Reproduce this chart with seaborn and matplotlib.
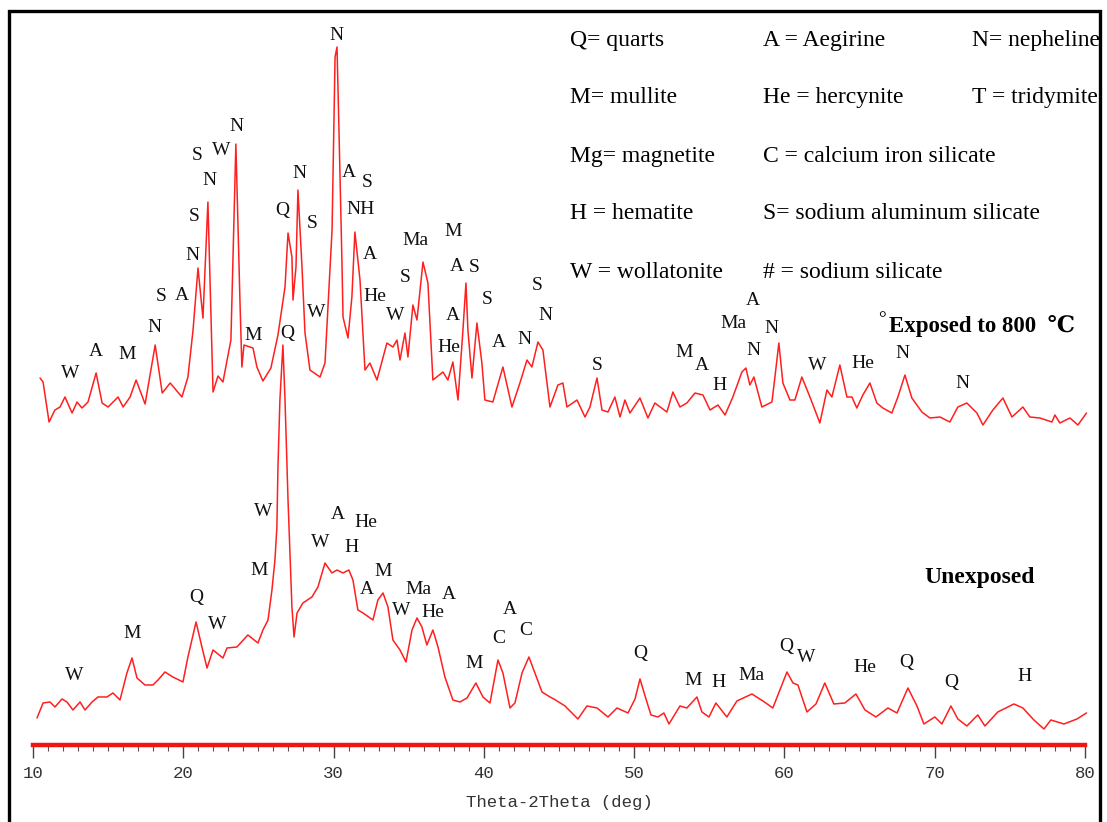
import matplotlib
matplotlib.use("Agg")
import matplotlib.pyplot as plt
from matplotlib.patches import Rectangle
import pandas as pd
import seaborn as sns

# XRD traces (2theta in deg, intensity in arbitrary units)
exposed_2theta = [10.47, 10.67, 11.07, 11.46, 11.8, 12.13, 12.6, 12.93, 13.26, 13.66,
                  14.2, 14.6, 15.0, 15.66, 16.0, 16.46, 16.86, 17.46, 18.13, 18.6,
                  19.13, 19.91, 20.31, 20.65, 20.98, 21.31, 21.64, 21.98, 22.31, 22.64,
                  23.17, 23.5, 23.77, 23.9, 24.04, 24.64, 24.9, 25.3, 25.83, 26.3,
                  26.77, 26.97, 27.23, 27.3, 27.5, 27.63, 27.9, 28.1, 28.43, 29.1,
                  29.43, 29.9, 30.1, 30.23, 30.36, 30.56, 30.63, 30.96, 31.22, 31.42,
                  31.76, 32.09, 32.42, 32.89, 33.55, 33.95, 34.22, 34.42, 34.75, 34.95,
                  35.28, 35.55, 35.95, 36.28, 36.61, 37.28, 37.61, 37.94, 38.28, 38.61,
                  38.81, 38.94, 39.21, 39.54, 39.87, 40.07, 40.6, 41.27, 41.87, 42.4,
                  42.87, 43.2, 43.6, 43.93, 44.4, 44.93, 45.26, 45.53, 46.2, 46.73,
                  47.06, 47.53, 47.86, 48.26, 48.72, 49.06, 49.39, 49.72, 50.39, 50.92,
                  51.38, 52.18, 52.58, 53.05, 53.51, 54.05, 54.58, 55.05, 55.58, 56.05,
                  56.57, 57.17, 57.44, 57.7, 57.97, 58.5, 59.17, 59.37, 59.63, 59.9,
                  60.37, 60.7, 61.16, 61.7, 62.36, 62.83, 63.16, 63.69, 64.16, 64.49,
                  64.82, 65.22, 65.69, 66.15, 66.55, 67.15, 67.55, 68.02, 68.48, 69.15,
                  69.68, 70.35, 71.01, 71.54, 72.14, 72.81, 73.21, 73.87, 74.54, 75.14,
                  75.87, 76.33, 77.0, 77.8, 78.0, 78.33, 79.0, 79.53, 80.1]
exposed_int = [367, 363, 323, 335, 338, 348, 332, 343, 337, 343,
               372, 342, 338, 348, 338, 348, 365, 341, 400, 352,
               362, 348, 368, 415, 477, 427, 543, 353, 369, 363,
               405, 601, 445, 378, 400, 397, 378, 364, 377, 410,
               458, 512, 488, 445, 478, 555, 478, 412, 375, 368,
               382, 515, 688, 698, 615, 482, 428, 407, 448, 513,
               465, 375, 382, 365, 402, 398, 405, 385, 412, 388,
               440, 425, 483, 462, 365, 373, 365, 383, 345, 415,
               462, 415, 367, 422, 382, 345, 343, 378, 338, 362,
               385, 378, 403, 395, 338, 360, 362, 338, 345, 328,
               338, 367, 335, 333, 348, 328, 345, 332, 347, 327,
               342, 333, 353, 338, 342, 352, 350, 335, 340, 330,
               348, 373, 377, 360, 368, 338, 343, 368, 402, 362,
               345, 345, 368, 348, 322, 355, 348, 380, 348, 348,
               337, 350, 362, 342, 337, 332, 348, 370, 347, 333,
               327, 328, 323, 338, 342, 332, 320, 335, 347, 328,
               338, 328, 327, 323, 330, 322, 327, 320, 332]

unexposed_2theta = [10.27, 10.67, 11.13, 11.46, 11.93, 12.26, 12.66, 13.13, 13.46, 13.93,
                    14.32, 14.92, 15.32, 15.79, 16.25, 16.59, 16.92, 17.45, 17.98, 18.32,
                    18.78, 19.31, 19.98, 20.31, 20.85, 21.24, 21.58, 21.98, 22.64, 22.91,
                    23.57, 24.3, 24.97, 25.3, 25.64, 25.9, 26.1, 26.23, 26.3, 26.43,
                    26.63, 26.77, 26.97, 27.23, 27.37, 27.57, 27.96, 28.56, 28.96, 29.43,
                    29.89, 30.23, 30.63, 31.02, 31.29, 31.62, 31.96, 32.62, 32.95, 33.29,
                    33.62, 33.95, 34.42, 34.82, 35.22, 35.55, 35.88, 36.21, 36.61, 36.95,
                    37.41, 37.94, 38.41, 38.88, 39.47, 39.94, 40.41, 40.94, 41.27, 41.74,
                    42.07, 42.54, 43.0, 43.4, 43.87, 44.4, 44.66, 45.4, 46.26, 46.86,
                    47.53, 48.26, 48.86, 49.59, 50.06, 50.39, 50.79, 51.12, 51.58, 51.98,
                    52.32, 53.05, 53.51, 54.18, 54.51, 54.98, 55.44, 56.17, 56.84, 57.84,
                    58.57, 59.23, 59.7, 60.17, 60.57, 60.9, 61.5, 62.1, 62.69, 63.29,
                    64.02, 64.76, 65.36, 66.09, 66.89, 67.49, 68.22, 68.82, 69.28, 70.01,
                    70.48, 71.08, 71.54, 72.14, 72.87, 73.34, 74.2, 75.27, 75.87, 76.6,
                    77.27, 77.73, 78.6, 79.47, 80.1]
unexposed_int = [27, 42, 43, 38, 46, 43, 35, 43, 35, 43,
                 48, 48, 52, 45, 72, 87, 67, 60, 60, 65,
                 73, 68, 63, 88, 123, 98, 77, 95, 87, 97,
                 98, 110, 102, 115, 125, 155, 185, 218, 278, 345,
                 400, 345, 245, 138, 108, 132, 142, 148, 158, 182,
                 172, 175, 172, 175, 165, 135, 132, 125, 145, 152,
                 138, 105, 95, 83, 115, 127, 118, 100, 115, 98,
                 68, 45, 43, 47, 62, 48, 42, 85, 72, 37,
                 42, 72, 88, 72, 53, 48, 46, 39, 26, 39,
                 37, 28, 37, 32, 46, 66, 46, 30, 28, 32,
                 21, 39, 37, 48, 33, 28, 42, 28, 44, 51,
                 44, 37, 55, 73, 62, 60, 33, 41, 62, 41,
                 42, 51, 35, 28, 37, 32, 57, 39, 21, 28,
                 21, 39, 26, 19, 30, 19, 33, 41, 37, 25,
                 16, 25, 21, 26, 32]

# phase labels (text, 2theta, intensity)
exposed_labels = ["W", "A", "M", "N", "S", "A", "N", "S", "S", "N", "W", "N", "M", "Q",
                  "N", "S", "W", "N", "A", "S", "NH", "A", "He", "W", "S", "Ma", "M",
                  "A", "S", "A", "He", "S", "A", "N", "S", "N", "S", "M", "A", "H", "Ma",
                  "A", "N", "N", "W", "He", "N", "N"]
exposed_label_x = [12.46, 14.19, 16.25, 18.05, 18.52, 19.91, 20.58, 20.71, 20.91, 21.71,
                   22.51, 23.57, 24.64, 26.57, 27.76, 28.56, 28.83, 30.16, 31.02, 32.22,
                   31.82, 32.42, 32.75, 34.09, 34.75, 35.48, 37.94, 38.21, 39.34, 37.94,
                   37.68, 40.21, 41.0, 42.73, 43.53, 44.13, 47.53, 53.31, 54.51, 55.71,
                   56.64, 57.9, 57.97, 59.17, 62.16, 65.22, 67.88, 71.88]
exposed_label_y = [372, 394, 391, 418, 449, 450, 490, 529, 590, 565,
                   595, 619, 410, 535, 572, 522, 433, 710, 573, 563,
                   536, 491, 449, 430, 468, 505, 514, 479, 478, 430,
                   398, 446, 403, 406, 460, 430, 380, 393, 380, 360,
                   422, 445, 395, 417, 380, 382, 392, 362]

unexposed_labels = ["W", "M", "Q", "W", "M", "W", "Q", "W", "A", "H", "He", "A", "M",
                    "W", "Ma", "He", "A", "M", "C", "A", "C", "Q", "M", "H", "Ma", "Q",
                    "W", "He", "Q", "Q", "H"]
unexposed_label_x = [12.73, 16.59, 20.85, 22.24, 25.04, 25.3, 26.9, 29.1, 30.29, 31.22,
                     32.16, 32.22, 33.29, 34.48, 35.62, 36.61, 37.68, 39.34, 41.0, 41.74,
                     42.8, 50.39, 53.91, 55.64, 57.84, 60.1, 61.43, 65.36, 68.08, 71.08,
                     76.0]
unexposed_label_y = [69, 111, 147, 120, 174, 233, 412, 202, 230, 197,
                     222, 155, 173, 134, 155, 132, 150, 81, 106, 135,
                     114, 91, 64, 62, 69, 98, 87, 77, 82, 62,
                     68]

key_col1 = ["Q= quarts", "M= mullite", "Mg= magnetite", "H = hematite", "W = wollatonite"]
key_col2 = ["A = Aegirine", "He = hercynite", "C = calcium iron silicate",
            "S= sodium aluminum silicate", "# = sodium silicate"]
key_col3 = ["N= nepheline", "T = tridymite"]

sns.set_style("white")
serif = ["Liberation Serif", "DejaVu Serif"]
mono = ["Liberation Mono", "DejaVu Sans Mono"]
plt.rcParams["font.family"] = serif

fig = plt.figure(figsize=(11.07, 8.22), dpi=100)
ax = fig.add_axes([0.0298, 0.0937, 0.9503, 0.888])

red = "#ff1f1f"
df_exp = pd.DataFrame({"two_theta": exposed_2theta, "intensity": exposed_int})
df_unexp = pd.DataFrame({"two_theta": unexposed_2theta, "intensity": unexposed_int})
sns.lineplot(data=df_exp, x="two_theta", y="intensity", color=red, lw=1.1,
             sort=False, estimator=None, ax=ax)
sns.lineplot(data=df_unexp, x="two_theta", y="intensity", color=red, lw=1.1,
             sort=False, estimator=None, ax=ax)
for ln in ax.lines:
    ln.set_clip_on(False)

for t, x, y in zip(exposed_labels, exposed_label_x, exposed_label_y):
    ax.text(x, y, t, ha="center", va="center", fontsize=14, color="#111111")
for t, x, y in zip(unexposed_labels, unexposed_label_x, unexposed_label_y):
    ax.text(x, y, t, ha="center", va="center", fontsize=14, color="#111111")

ax.set_xlim(10, 80)
ax.set_ylim(0, 730)
ax.set_xticks(range(10, 81, 10))
ax.set_xticks(range(10, 81, 1), minor=True)
ax.set_yticks([])
for s in ["left", "top", "right"]:
    ax.spines[s].set_visible(False)
ax.spines["bottom"].set_color("#f01414")
ax.spines["bottom"].set_linewidth(3.2)
ax.tick_params(axis="x", which="both", bottom=True)
ax.tick_params(axis="x", which="major", direction="out", length=9, width=1.0,
               color="#444444", pad=6, labelsize=12.5, labelcolor="#333333")
ax.tick_params(axis="x", which="minor", direction="out", length=4.5, width=0.8,
               color="#555555")
for lab in ax.get_xticklabels():
    lab.set_family(mono)
ax.set_xlabel("Theta-2Theta (deg)", family=mono, fontsize=12.5, color="#333333",
              labelpad=10)
ax.set_ylabel("")

# phase key
for xpos, col in zip([0.515, 0.689, 0.878], [key_col1, key_col2, key_col3]):
    for ypos, t in zip([0.951, 0.881, 0.810, 0.740, 0.669], col):
        fig.text(xpos, ypos, t, ha="left", va="center", fontsize=17, color="black")

fig.text(0.793, 0.611, "°", ha="left", va="center", fontsize=14, color="black")
fig.text(0.803, 0.604, "Exposed to 800  ℃", ha="left", va="center", fontsize=16.5,
         fontweight="bold", color="black")
fig.text(0.885, 0.297, "Unexposed", ha="center", va="center", fontsize=17,
         fontweight="bold", color="black")

# outer frame
fig.patches.append(Rectangle((0.0085, -0.05), 0.985, 1.0366, transform=fig.transFigure,
                             fill=False, edgecolor="black", lw=2.4, clip_on=False))

fig.savefig("out.png", dpi=100)
